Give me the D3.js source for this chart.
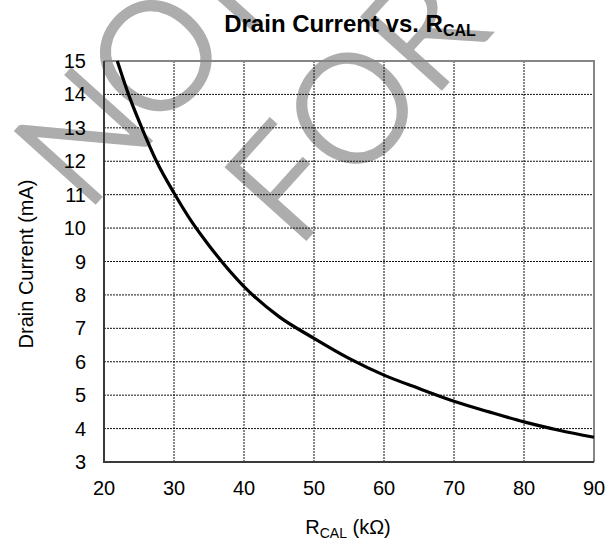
<!DOCTYPE html>
<html>
<head>
<meta charset="utf-8">
<script src="https://cdn.jsdelivr.net/npm/d3@7"></script>
<style>
  body { margin: 0; background: #fff; }
  text { font-family: "Liberation Sans", Arial, sans-serif; fill: #000; }
</style>
</head>
<body>
<svg id="chart" width="613" height="550"></svg>
<script>
// values
var rcal = [21.9, 23.5, 25.4, 27.5, 30, 32.5, 35, 40, 45, 50, 55, 60, 65, 70, 75, 80, 85, 90];
var drain = [15, 14, 13, 12, 11.05, 10.2, 9.48, 8.25, 7.35, 6.7, 6.1, 5.6, 5.2, 4.82, 4.5, 4.2, 3.95, 3.74];
var xTicks = [20, 30, 40, 50, 60, 70, 80, 90];
var yTicks = [3, 4, 5, 6, 7, 8, 9, 10, 11, 12, 13, 14, 15];
var watermark = ["NOT RECOMMENDED", "FOR NEW DESIGNS"];

var svg = d3.select("#chart"),
    x = d3.scaleLinear().domain([20, 90]).range([104, 594]),
    y = d3.scaleLinear().domain([3, 15]).range([462, 61]);

// watermark sits behind everything
var wm = svg.append("g")
    .attr("transform", "translate(97,200) rotate(-48)");

wm.selectAll("text")
  .data(watermark)
  .enter()
  .append("text")
    .attr("x", (d, i) => i ? 96 : -18)
    .attr("y", (d, i) => i * 181)
    .style("font-family", "Lato, Roboto, sans-serif")
    .style("font-weight", 300)
    .style("font-size", "150px")
    .style("letter-spacing", (d, i) => i ? "0px" : "-8px")
    .style("fill", "#adadad")
    .style("stroke", "#adadad")
    .style("stroke-width", 4)
    .text(d => d);

// grid
svg.append("g")
  .selectAll("line")
  .data(xTicks.slice(1, -1))
  .enter()
  .append("line")
    .attr("x1", d => x(d)).attr("x2", d => x(d))
    .attr("y1", y(15)).attr("y2", y(3))
    .attr("stroke", "#111")
    .attr("stroke-dasharray", "2,1");

svg.append("g")
  .selectAll("line")
  .data(yTicks.slice(1, -1))
  .enter()
  .append("line")
    .attr("x1", x(20)).attr("x2", x(90))
    .attr("y1", d => y(d)).attr("y2", d => y(d))
    .attr("stroke", "#111")
    .attr("stroke-dasharray", "2,1");

// frame: light top/right, dark left/bottom
svg.append("path")
    .attr("d", "M" + x(20) + "," + y(15) + "H" + x(90) + "V" + y(3))
    .attr("fill", "none")
    .attr("stroke", "#858585")
    .attr("stroke-width", 2);

svg.append("path")
    .attr("d", "M" + x(20) + "," + y(15) + "V" + y(3) + "H" + x(90))
    .attr("fill", "none")
    .attr("stroke", "#3a3a3a")
    .attr("stroke-width", 2);

// curve
var line = d3.line()
    .x((d, i) => x(rcal[i]))
    .y(d => y(d))
    .curve(d3.curveMonotoneX);

svg.append("path")
    .attr("d", line(drain))
    .attr("fill", "none")
    .attr("stroke", "#000")
    .attr("stroke-width", 3.2);

// tick labels
svg.append("g")
  .selectAll("text")
  .data(yTicks)
  .enter()
  .append("text")
    .attr("x", 86)
    .attr("y", d => y(d))
    .attr("dy", "0.35em")
    .attr("text-anchor", "end")
    .style("font-size", "20px")
    .text(d => d);

svg.append("g")
  .selectAll("text")
  .data(xTicks)
  .enter()
  .append("text")
    .attr("x", d => x(d))
    .attr("y", 495)
    .attr("text-anchor", "middle")
    .style("font-size", "20px")
    .text(d => d);

// titles
var title = svg.append("text")
    .attr("x", 350)
    .attr("y", 32)
    .attr("text-anchor", "middle")
    .style("font-size", "24px")
    .style("font-weight", "bold");
title.append("tspan").text("Drain Current vs. R");
title.append("tspan").attr("dy", 4).style("font-size", "16px").text("CAL");

var xLabel = svg.append("text")
    .attr("x", 348)
    .attr("y", 534)
    .attr("text-anchor", "middle")
    .style("font-size", "20px");
xLabel.append("tspan").text("R");
xLabel.append("tspan").attr("dy", 4).style("font-size", "14px").text("CAL");
xLabel.append("tspan").attr("dy", -4).text(" (k\u03a9)");

svg.append("text")
    .attr("transform", "translate(33,264) rotate(-90)")
    .attr("text-anchor", "middle")
    .style("font-size", "20px")
    .text("Drain Current (mA)");
</script>
</body>
</html>
